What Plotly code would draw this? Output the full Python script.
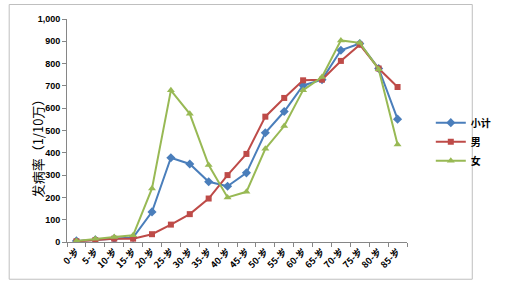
import plotly.graph_objects as go

categories = ["0-岁","5-岁","10-岁","15-岁","20-岁","25-岁","30-岁","35-岁","40-岁",
              "45-岁","50-岁","55-岁","60-岁","65-岁","70-岁","75-岁","80-岁","85-岁"]
subtotal = [5, 10, 15, 20, 135, 378, 350, 270, 250, 310, 490, 585, 702, 728, 860, 890, 778, 551]
male = [3, 8, 15, 15, 35, 78, 125, 195, 300, 395, 562, 646, 725, 728, 812, 885, 778, 695]
female = [5, 15, 22, 30, 240, 680, 575, 345, 200, 225, 418, 520, 681, 740, 904, 893, 775, 437]

fig = go.Figure()
fig.add_trace(go.Scatter(x=categories, y=subtotal, name="小计", mode="lines+markers",
                         line=dict(color="#4a7ebb", width=2),
                         marker=dict(symbol="diamond", size=7, color="#4a7ebb")))
fig.add_trace(go.Scatter(x=categories, y=male, name="男", mode="lines+markers",
                         line=dict(color="#be4b48", width=2),
                         marker=dict(symbol="square", size=6, color="#be4b48")))
fig.add_trace(go.Scatter(x=categories, y=female, name="女", mode="lines+markers",
                         line=dict(color="#98b954", width=2),
                         marker=dict(symbol="triangle-up", size=7, color="#98b954")))

fig.update_layout(
    width=508, height=286,
    margin=dict(l=67, r=76, t=18.5, b=43.5),
    paper_bgcolor="white", plot_bgcolor="white",
    font=dict(family="Liberation Sans, Noto Sans CJK SC", color="#000000"),
    showlegend=True,
    legend=dict(x=1.07, y=0.45, xanchor="left", yanchor="middle",
                font=dict(size=10, family="Noto Sans CJK SC", weight="bold"),
                bgcolor="rgba(0,0,0,0)", tracegroupgap=0, itemwidth=30),
    xaxis=dict(type="category", range=[-0.5, 17.5], showgrid=False,
               showline=True, linecolor="#868686", linewidth=1,
               ticks="outside", tickson="boundaries", ticklen=4, tickcolor="#868686",
               tickangle=-45, tickfont=dict(size=9, family="Noto Sans CJK SC", weight="bold"),
               fixedrange=True),
    yaxis=dict(range=[0, 1000], dtick=100, showgrid=False, zeroline=False,
               showline=True, linecolor="#868686", linewidth=1,
               ticks="outside", ticklen=4, tickcolor="#868686",
               tickformat=",d", tickfont=dict(size=9, family="Liberation Sans", weight="bold"),
               fixedrange=True),
    shapes=[dict(type="rect", xref="paper", yref="paper",
                 x0=-0.170, x1=1.192, y0=-0.167, y1=1.065,
                 line=dict(color="#bfbfbf", width=1))],
    annotations=[dict(text="发病率（1/10万）", xref="paper", yref="paper",
                      x=-0.118, y=0.435, textangle=-90, showarrow=False,
                      font=dict(size=13, family="Noto Sans CJK SC"))],
)

fig.write_html("out.html")
